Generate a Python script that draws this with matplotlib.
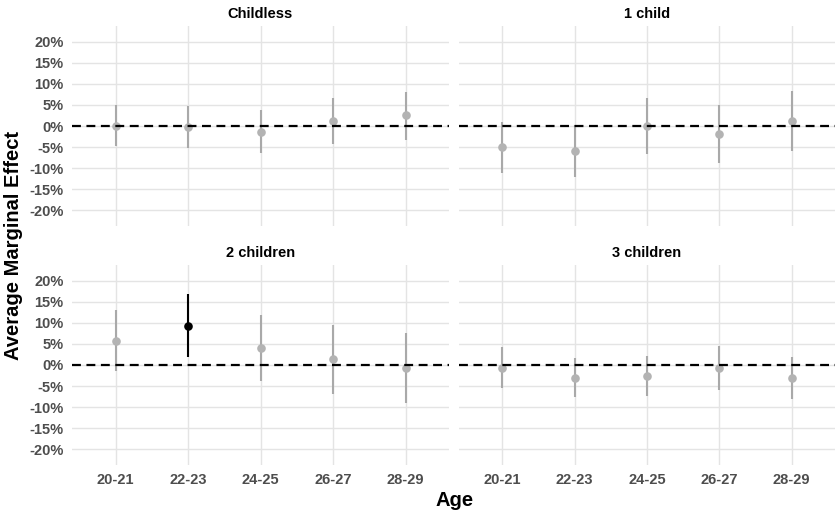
import numpy as np
import matplotlib
matplotlib.use("Agg")
import matplotlib.pyplot as plt
from matplotlib.ticker import FuncFormatter

plt.rcParams['font.family'] = ['Liberation Sans', 'DejaVu Sans']
plt.rcParams['font.weight'] = 'bold'

# age groups on the x axis
ages = ['20-21', '22-23', '24-25', '26-27', '28-29']
panels = ['Childless', '1 child', '2 children', '3 children']

# average marginal effects (%) with lower / upper bounds of the interval
ame = {
    'Childless':  [0.0, -0.3, -1.4, 1.3, 2.5],
    '1 child':    [-5.1, -6.0, 0.0, -1.9, 1.3],
    '2 children': [5.8, 9.3, 4.0, 1.4, -0.6],
    '3 children': [-0.7, -3.0, -2.6, -0.7, -3.1],
}
lower = {
    'Childless':  [-4.7, -5.3, -6.5, -4.3, -3.3],
    '1 child':    [-11.3, -12.2, -6.7, -8.9, -6.0],
    '2 children': [-1.5, 1.8, -3.8, -7.0, -9.1],
    '3 children': [-5.5, -7.7, -7.3, -6.0, -8.0],
}
upper = {
    'Childless':  [5.0, 4.8, 3.7, 6.7, 8.2],
    '1 child':    [0.9, 0.2, 6.7, 5.0, 8.4],
    '2 children': [13.1, 16.9, 11.8, 9.5, 7.7],
    '3 children': [4.2, 1.7, 2.1, 4.5, 2.0],
}

yticks = [-20, -15, -10, -5, 0, 5, 10, 15, 20]

fig = plt.figure(figsize=(8.35, 5.14), dpi=100)
W, H = 835, 514
# panel boxes in pixels: (left, top, width, height)
boxes = [(72, 26, 377, 200), (459, 26, 376, 200),
         (72, 265, 377, 200), (459, 265, 376, 200)]

grey_line = '#a9a9a9'
grey_pt = '#b3b3b3'

for i, (name, (l, t, w, h)) in enumerate(zip(panels, boxes)):
    ax = fig.add_axes([l / W, 1 - (t + h) / H, w / W, h / H])
    x = np.arange(len(ages))
    m = np.array(ame[name])
    lo = np.array(lower[name])
    hi = np.array(upper[name])
    # interval excluding zero gets drawn in black
    sig = (lo > 0) | (hi < 0)
    for xi, mi, a, b, s in zip(x, m, lo, hi, sig):
        c_line = 'black' if s else grey_line
        c_pt = 'black' if s else grey_pt
        ax.plot([xi, xi], [a, b], color=c_line, lw=1.5, solid_capstyle='butt', zorder=3)
        ax.plot(xi, mi, 'o', color=c_pt, ms=6.2, mec='none', zorder=4)
    ax.axhline(0, color='black', lw=1.6, ls=(0, (4, 2.5)), zorder=5)

    ax.set_xlim(-0.6, 4.6)
    ax.set_ylim(-23.8, 23.8)
    ax.set_xticks(x)
    ax.set_yticks(yticks)
    ax.grid(True, color='#e4e4e4', lw=1.0)
    ax.set_axisbelow(True)
    for sp in ax.spines.values():
        sp.set_visible(False)
    ax.tick_params(length=0, labelsize=10.5, labelcolor='#4d4d4d', pad=6)
    ax.yaxis.set_major_formatter(FuncFormatter(lambda v, p: f'{v:.0f}%'))
    if i in (2, 3):
        ax.set_xticklabels(ages, fontweight='bold')
    else:
        ax.set_xticklabels([])
    if i in (1, 3):
        ax.set_yticklabels([])
    else:
        for lab in ax.get_yticklabels():
            lab.set_fontweight('bold')
    ax.set_title(name, fontsize=10.5, fontweight='bold', pad=6)

fig.text(14 / W, 1 - 245 / H, 'Average Marginal Effect', rotation=90,
         ha='center', va='center', fontsize=14.5, fontweight='bold')
fig.text(455 / W, 1 - 500 / H, 'Age', ha='center', va='center',
         fontsize=14.5, fontweight='bold')

fig.savefig('out.png', dpi=100)
